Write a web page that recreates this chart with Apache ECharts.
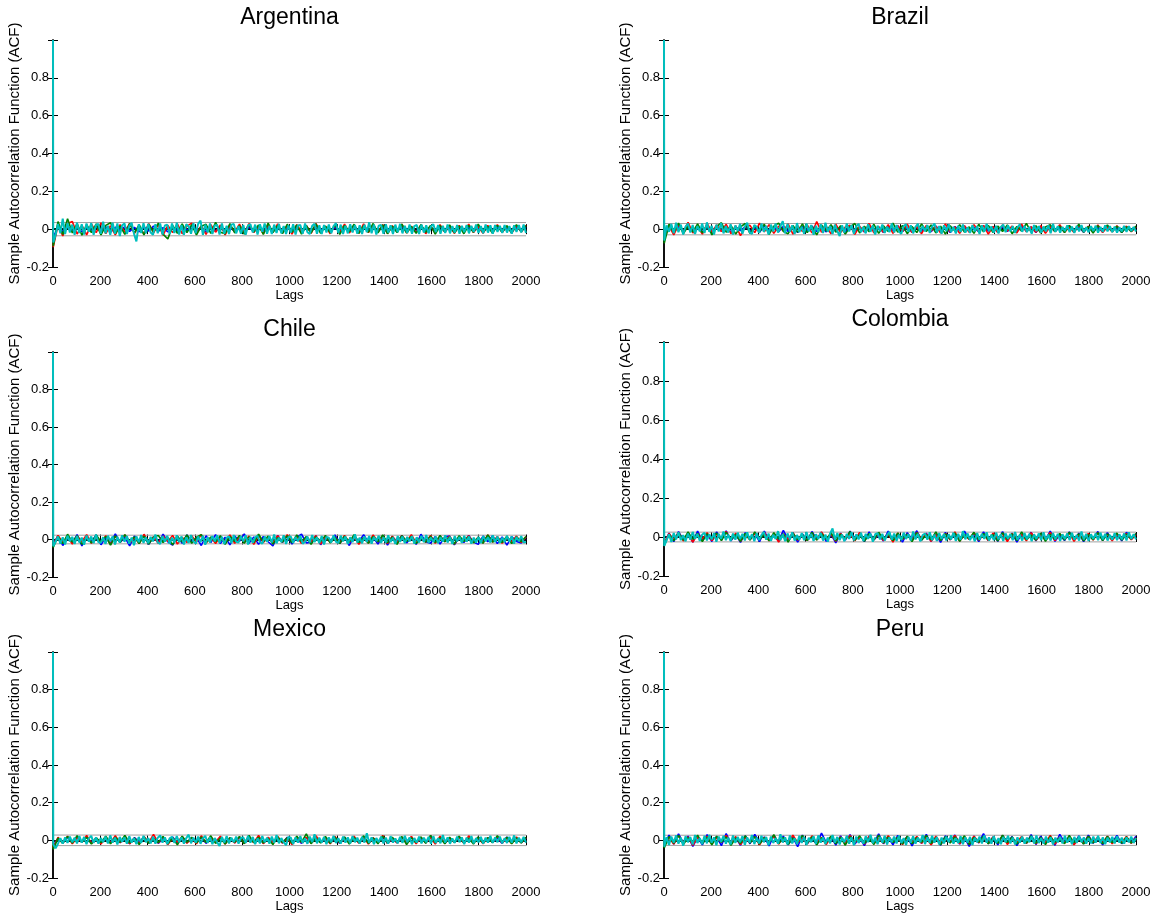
<!DOCTYPE html>
<html>
<head>
<meta charset="utf-8">
<script src="https://cdn.jsdelivr.net/npm/echarts@6/dist/echarts.min.js"></script>
<style>
html,body{margin:0;padding:0;background:#fff;}
#chart{width:1158px;height:916px;}
</style>
</head>
<body>
<div id="chart"></div>
<script>
// ---------------- data (ACF values in thousandths; first value = lag 0, rest spread over lags 1..2000) ----------------
const panelNames = ['Argentina', 'Brazil', 'Chile', 'Colombia', 'Mexico', 'Peru'];
const confBounds = [0.035, 0.030, 0.023, 0.025, 0.028, 0.027];
const lagMax = 2000;
const xTickStep = 200;
const yMin = -0.2, yMax = 1, yTickStep = 0.2;

const argCyan = [1000,
-70,-30,28,-22,55,-26,32,-18,24,-30,
34,-20,26,-28,30,-14,32,-30,22,28,
-24,40,-22,18,-30,34,-24,30,-36,20,
30,-26,16,34,-24,-65,26,-20,32,-22,
28,-18,-30,26,-22,30,-28,20,24,-26,
30,-20,34,-28,22,-30,26,14,-24,32,
-22,28,45,-30,24,-18,30,-26,20,22,
-28,30,-24,18,-26,24,28,-22,16,-24,
22,-30,20,26,-18,24,-28,26,-14,30,
-24,18,-26,24,-20,28,-22,16,-26,20,
-18,26,-28,20,22,-24,30,-16,-26,18,
28,-24,20,-26,22,-18,24,-22,16,32,
-20,24,-26,18,-22,26,-18,22,-24,20,
-26,24,-16,36,-22,24,-28,18,22,-24,
26,-18,20,-26,24,-16,28,-22,18,-20,
24,-24,16,22,-26,24,-18,20,-22,14,
26,-16,22,-24,18,-20,24,-22,16,-18,
22,-24,18,-16,22,-22,18,-14,24,-20,
16,-22,24,-18,20,-24,22,-14,18,-20,
22,-18,16,-24,20,-14,22,-18,24,-20];
const argGreen = [1000,
-90,40,-28,55,-20,30,-32,24,-18,28,
-30,20,34,-24,16,-28,30,-20,24,-30,
26,-16,32,-26,-52,20,-22,28,-18,24,
-30,16,26,-22,36,-16,-24,30,-20,18,
-26,24,-14,22,-28,32,-18,20,-24,26,
-16,22,-26,18,-20,28,-22,16,-18,24,
-28,20,-14,26,-22,18,-16,30,-20,22,
-24,16,-18,26,-20,14,-22,24,-16,20,
-26,18,-14,22,-20,16,-24,20,-16,26,
-18,14,-22,20,-16,18,-20,24,-14,18];
const argRed = [1000,
-95,22,-36,30,40,-26,20,-30,28,-18,
34,-24,18,-30,24,-16,30,-22,16,-26,
30,-20,24,-32,20,-18,28,-24,16,32,
-22,18,-28,24,-16,22,-30,20,-14,26,
-20,30,-18,16,-24,22,-16,28,-20,18,
-26,24,-14,20,-22,30,-18,16,-24,22,
-16,26,-20,14,-22,28,-18,20,-16,24,
-22,18,-14,26,-20,16,-18,22,-24,16,
-20,24,-16,18,-22,20,-14,26,-18,14,
-22,20,-16,24,-18,16,-20,18,-14,20];
const argBlue = [1000,
-45,14,-12,16,-10,12,-14,10,-12,14,
-10,12,-16,10,-8,14,-12,10,-14,12,
-10,16,-12,8,-14,12,-10,14,-8,16,
-12,10,-14,12,-10,14,-16,10,-12,14,
-8,12,-14,16,-10,12,-12,10,-14,12,
-10,14,-16,10,-12,16,-8,12,-14,10,
-12,14,-10,16,-14,12,-8,10,-12,14,
-16,12,-10,14,-12,10,-14,16,-8,12,
-10,14,-12,10,-16,14,-8,12,-12,10,
-14,12,-10,14,-12,10,-14,12,-10,12];

const braCyan = [1000,
-60,20,-14,28,-22,34,-16,24,-28,14,
30,-18,22,-26,16,-12,30,-20,36,-14,
18,-28,24,-12,32,-22,16,-18,26,-28,
20,-10,28,-24,14,34,-16,-26,22,12,
-20,30,-14,18,-28,24,-12,30,-18,16,
42,-22,28,-14,20,-26,32,-16,12,-24,
30,-12,22,-30,18,-16,26,-20,34,-14,
16,-26,24,-10,-36,20,-18,30,-12,22,
-24,16,28,-16,12,-22,26,-14,20,-28,
18,-10,24,-20,14,-16,30,-18,22,-12,
-24,16,26,-14,20,-22,12,28,-16,18,
-12,22,-20,14,30,-18,16,-24,20,-10,
26,-16,12,-22,18,-14,24,-18,10,-20,
22,-12,16,-26,20,-14,28,-10,14,-18,
18,-22,12,24,-16,20,-12,16,-20,10,
26,-14,18,-16,12,-24,22,-10,16,-18,
14,-12,20,-22,28,-14,16,-18,12,-10,
20,-16,14,-20,18,-12,22,-14,10,-16,
16,-10,18,-18,12,-14,20,-12,16,-16,
14,-18,10,-12,18,-14,16,-10,12,-12];
const braGreen = [1000,
-75,26,-18,32,-24,16,-14,28,-20,22,
-30,14,34,-16,20,-26,12,30,-22,18,
-14,26,-28,16,32,-12,-24,20,-16,28,
-18,14,-30,22,-10,24,-16,18,-26,12,
30,-20,16,-14,26,-22,18,-12,32,-16,
20,-24,14,-18,28,-12,22,-20,16,-26,
18,-10,24,-16,12,-22,26,-14,20,-18,
16,-12,22,-24,14,-10,30,-16,18,-20,
12,24,-14,16,-18,20,-12,26,-16,14,
-20,18,-10,22,-14,16,-18,12,-12,16];
const braRed = [1000,
-55,16,-30,24,-14,36,-20,12,-26,30,
-16,22,-12,26,-24,18,-34,14,20,-18,
32,-14,24,-22,16,-10,28,-26,18,-12,
22,-20,40,-16,14,-24,26,-18,12,20,
-28,16,-14,30,-20,12,-16,24,-22,18,
-12,26,-18,14,-24,20,-10,16,-20,28,
-14,12,-22,18,-16,24,-12,20,-26,14,
-18,22,-10,16,-20,26,-14,12,-16,18,
-22,14,-12,24,-16,10,-18,20,-14,16,
-12,22,-18,12,-14,18,-10,16,-14,12];
const braBlue = [1000,
-35,12,-16,14,-10,18,-12,10,-14,16,
-12,14,-10,18,-16,12,-8,14,-12,10,
-16,18,-10,12,-14,16,-12,10,-18,14,
-8,16,-12,10,-14,18,-10,12,-16,14,
-12,10,-14,16,-10,12,-18,14,-8,18,
-12,10,-16,14,-10,12,-14,16,-12,10,
-18,14,-8,16,-12,10,-14,18,-10,12,
-16,14,-12,10,-14,16,-10,12,-18,14,
-8,16,-12,10,-14,18,-10,12,-16,14,
-12,10,-14,16,-10,12,-18,14,-10,12];

const chiCyan = [1000,
-36,-12,16,-22,12,-26,20,-10,14,-24,
18,-16,10,-28,22,-12,16,-20,26,-14,
-18,12,-24,20,-8,16,-26,14,-16,22,
-12,18,-22,10,-30,16,-14,24,-18,12,
-20,14,-10,26,-16,-24,18,-12,20,-22,
10,-16,22,-14,16,-26,12,-18,24,-10,
-22,16,-14,20,-28,12,-16,18,-10,22,
-18,14,-24,10,16,-20,24,-12,-16,18,
-10,22,-26,14,-18,12,20,-14,-22,16,
-12,18,-16,26,-20,10,-14,22,-24,12,
16,-18,14,-10,20,-22,-12,16,-16,24,
-14,12,-20,18,-26,14,10,-16,22,-12,
-18,20,-10,16,-24,12,-14,28,-16,10,
-20,16,-12,18,-22,14,-8,20,-18,12,
-16,22,-14,10,-24,18,-12,16,-20,14,
-10,18,-22,12,-16,20,-14,24,-18,10,
-14,16,-20,12,-12,22,-16,14,-24,18,
-10,14,-18,20,-12,16,-22,10,-16,14,
-20,18,-10,12,-16,22,-14,16,-18,10,
-14,20,-12,16,-22,14,-10,18,-16,-12];
const chiBlue = [1000,
-26,20,-32,14,-18,26,-34,16,-12,24,
-28,10,-20,30,-16,12,-34,18,-10,22,
-26,14,-18,28,-12,-30,16,-20,24,-14,
10,-32,20,-16,26,-22,12,-28,18,-10,
30,-20,14,-26,16,-12,-34,22,-16,18,
-24,12,28,-18,-14,20,-28,16,-10,24,
-22,14,-32,18,-12,26,-16,10,-24,20,
-30,16,-14,22,-18,12,-26,28,-12,-20,
16,-24,14,18,-28,10,-16,22,-14,-26,
18,-12,20,-22,14,-30,16,-10,-18,12];
const chiGreen = [1000,
-42,16,-22,28,-14,20,-26,12,-18,24,
-12,16,-30,20,-16,26,-10,14,-22,18,
-24,12,22,-16,10,-28,18,-14,24,-20,
12,26,-18,14,-12,20,-26,16,-10,22,
-20,14,-16,28,-12,18,-24,10,-14,20,
-18,24,-12,16,-26,14,-10,22,-18,12,
-22,18,-14,26,-16,10,-20,16,-12,24,
-18,14,-26,20,-10,16,-22,12,-14,18,
-16,22,-12,14,-24,20,-10,16,-18,12,
-20,24,-14,10,-16,18,-22,14,-12,16];
const chiRed = [1000,
-30,22,-16,14,-24,18,-10,26,-20,12,
-14,20,-26,16,-12,24,-18,10,-22,28,
-16,14,-20,18,-10,22,-24,12,-16,20,
-14,26,-18,10,-22,16,-12,24,-20,14,
-10,18,-26,22,-16,12,-18,20,-14,26,
-12,16,-22,14,-10,20,-24,18,-16,12,
-20,22,-14,16,-26,10,-18,24,-12,14,
-22,18,-16,20,-10,26,-18,12,-14,22,
-20,16,-12,18,-24,14,-10,20,-16,12,
-18,24,-14,16,-20,10,-12,18,-16,14];

const colCyan = [1000,
-46,-16,14,-26,20,-12,24,-16,10,-22,
18,-14,26,-10,16,-20,12,22,-18,14,
-12,20,-24,16,-10,28,-16,12,-20,18,
-14,22,-10,16,-18,24,-12,14,-22,20,
-16,10,26,-14,18,-20,12,-10,30,-16,
14,-22,18,-12,24,-18,10,-14,20,-16,
26,-12,16,-20,14,-10,22,-18,12,-24,
18,44,-14,20,-16,12,-22,16,-10,24,
-18,14,-12,22,-20,16,-10,18,-24,14,
20,-12,16,-18,10,26,-14,18,-20,12,
-16,22,-10,14,-18,28,-12,16,-22,10,
18,-14,24,-16,12,-20,20,-10,16,-18,
14,-12,22,-20,16,-14,30,-12,18,-16,
10,-22,20,-14,16,-10,24,-18,12,-16,
22,-12,14,-20,18,-10,16,-16,26,-14,
12,-18,20,-12,16,-22,14,-10,18,-16,
24,-14,12,-18,20,-12,16,-20,14,-10,
18,-16,22,-14,10,-18,28,-12,16,-20,
14,-10,18,-16,22,-12,16,-18,10,-14,
20,-16,14,-12,18,-18,24,-10,14,-12];
const colBlue = [1000,
-34,20,-24,28,-14,16,-26,30,-18,12,
-22,26,-16,32,-20,14,-28,22,-12,18,
-24,30,-16,10,-20,34,-14,22,-26,16,
-18,28,-12,24,-22,14,-30,20,-16,30,
-10,18,-24,26,-14,12,-20,30,-18,16,
-26,22,-12,32,-16,20,-22,14,-28,24,
-14,18,-20,30,-12,16,-24,26,-18,12,
-22,28,-16,20,-26,14,-10,24,-20,18,
-14,30,-22,12,-18,26,-16,20,-24,14,
-12,28,-18,22,-14,16,-20,24,-12,16];
const colGreen = [1000,
-44,14,-20,22,-16,26,-12,18,-24,16,
-10,20,-18,24,-14,12,-22,18,-16,26,
-12,14,-20,22,-10,16,-26,20,-14,12,
-18,24,-16,18,-12,22,-20,14,-10,28,
-16,12,-22,18,-14,24,-12,16,-18,20,
-10,14,-24,22,-16,12,-14,26,-18,16,
-12,20,-22,14,-10,24,-16,18,-14,12,
-20,22,-12,16,-18,26,-14,10,-16,20,
-22,14,-12,18,-16,24,-10,16,-20,12,
-14,22,-18,16,-12,20,-16,14,-10,18];
const colRed = [1000,
-30,18,-14,24,-20,12,-26,16,-10,22,
-18,14,-12,28,-16,20,-22,12,-14,18,
-10,24,-20,16,-26,14,-12,22,-16,10,
-18,20,-14,26,-12,16,-22,18,-10,14,
-20,24,-16,12,-14,22,-18,16,-26,20,
-12,14,-18,24,-10,16,-22,12,-16,18,
-14,26,-20,10,-12,22,-16,14,-18,20,
-10,16,-24,18,-12,14,-20,22,-16,12,
-14,24,-18,16,-10,20,-22,14,-12,18,
-16,22,-10,14,-20,16,-12,18,-14,12];

const mexCyan = [1000,
-22,-42,-18,12,-18,16,-14,20,-10,14,
-16,22,-12,18,-20,10,24,-14,16,-18,
12,-10,20,-16,26,-12,14,-22,18,-8,
16,-18,22,-12,10,-20,18,-14,24,-10,
12,-16,20,-18,14,26,-12,16,-20,10,
18,-14,22,-10,16,-18,12,30,-16,14,
-12,20,-18,10,24,-14,16,-20,12,-10,
-30,18,-12,22,-16,14,-10,20,-18,12,
16,-14,24,-12,18,-20,10,-16,22,-10,
14,-18,20,-12,28,-16,12,-10,-26,18,
14,-20,16,-12,22,-14,10,-18,20,-10,
32,-16,14,-12,18,-20,16,-10,24,-14,
12,-18,20,-12,16,-16,22,-10,14,-18,
18,-12,38,-14,16,-20,12,-10,20,-16,
14,-18,22,-12,10,-16,18,-14,24,-10,
16,-20,12,-12,20,-16,14,-10,18,-18,
22,-14,12,-16,28,-12,16,-18,10,-14,
20,-10,16,-20,14,-12,22,-16,12,-10,
18,-18,14,-12,24,-14,16,-10,20,-16,
12,-14,18,-12,26,-16,14,-10,18,-12];
const mexGreen = [1000,
-48,12,-16,20,-14,24,-10,16,-20,14,
-12,22,-18,16,-10,26,-14,12,-22,18,
-16,10,-12,20,-18,14,-24,22,-10,16,
-14,18,-12,24,-16,12,-20,14,-10,20,
-18,26,-12,16,-14,10,-22,18,-12,14,
-16,22,-10,34,-18,12,-14,20,-16,16,
-12,18,-20,14,-10,24,-16,12,-18,22,
-14,16,-10,20,-22,14,-12,18,-16,26,
-12,14,-18,16,-10,22,-14,12,-20,18,
-16,14,-12,24,-10,16,-18,12,-14,16];
const mexRed = [1000,
-40,16,-12,22,-18,14,-10,26,-16,12,
-20,18,-14,24,-12,16,-18,10,-16,20,
-12,32,-14,18,-22,12,-10,20,-16,14,
-18,24,-12,16,-10,22,-20,14,-14,18,
-16,12,-12,26,-18,16,-10,20,-14,12,
-22,18,-12,16,-16,24,-10,14,-18,20,
-14,12,-10,22,-16,18,-20,14,-12,26,
-16,12,-14,18,-10,20,-18,16,-12,14,
-20,22,-14,12,-10,18,-16,24,-12,16,
-18,14,-10,20,-14,12,-16,18,-12,14];
const mexBlue = [1000,
-28,10,-14,16,-12,14,-10,18,-14,12,
-16,14,-10,16,-12,10,-18,14,-8,16,
-12,14,-16,10,-10,18,-14,12,-12,14,
-10,16,-16,12,-8,18,-14,10,-12,16,
-14,12,-10,18,-16,14,-8,12,-14,16,
-12,10,-16,14,-10,18,-12,12,-14,10,
-16,16,-10,14,-12,18,-14,12,-8,16,
-16,10,-12,14,-10,18,-14,12,-12,16,
-10,14,-16,12,-8,18,-12,10,-14,16,
-12,14,-10,12,-16,18,-10,14,-12,12];

const peruCyan = [1000,
-34,16,-24,20,-12,26,-18,14,-28,22,
-10,18,-22,28,-14,12,-20,24,-16,30,
-12,16,-26,20,-8,24,-18,14,-22,26,
-14,18,-10,22,-24,16,-12,28,-20,14,
-16,24,-10,18,-26,20,-14,12,-18,32,
-12,16,-22,26,-16,10,-20,24,-14,18,
-24,14,-10,22,-18,26,-12,16,-20,14,
-16,28,-12,18,-22,14,-10,24,-18,16,
-26,20,-14,12,-18,22,-10,30,-16,14,
-20,18,-12,24,-22,16,-10,20,-16,26,
-14,12,-24,18,-12,22,-18,14,-10,28,
-20,16,-14,24,-12,18,-22,14,-16,20,
-10,26,-18,12,-14,22,-20,16,-12,18,
-24,14,-10,20,-16,26,-12,16,-18,22,
-14,12,-20,18,-10,24,-16,14,-22,16,
-12,20,-18,14,-10,22,-16,26,-14,12,
-18,20,-12,16,-22,14,-10,18,-16,24,
-12,14,-20,18,-14,22,-10,16,-18,12,
-16,20,-12,24,-14,16,-20,14,-10,18,
-16,22,-12,14,-18,16,-10,20,-14,12];
const peruBlue = [1000,
-26,28,-20,34,-14,22,-32,16,-24,30,
-12,20,-28,36,-16,14,-26,24,-18,32,
-10,18,-30,26,-14,22,-24,16,-34,28,
-18,14,-22,38,-12,20,-26,24,-16,30,
-20,12,-28,22,-14,34,-18,16,-24,26,
-12,20,-30,18,-16,32,-22,14,-26,24,
-10,28,-20,16,-32,22,-14,36,-18,18,
-24,26,-12,20,-28,14,-16,30,-22,22,
-14,18,-26,32,-10,16,-20,24,-18,28,
-16,14,-24,20,-12,26,-18,16,-14,22];
const peruGreen = [1000,
-40,20,-16,26,-22,14,-12,28,-18,16,
-24,22,-10,18,-26,12,-16,24,-14,20,
-20,14,-12,30,-18,16,-22,12,-10,26,
-16,18,-24,14,-12,22,-18,16,-26,20,
-10,24,-16,12,-22,28,-14,18,-12,16,
-20,22,-18,14,-10,26,-16,12,-24,20,
-14,18,-12,24,-22,16,-10,22,-18,14,
-16,28,-12,18,-20,12,-14,24,-16,16,
-22,20,-10,14,-18,26,-12,16,-20,22,
-14,12,-18,20,-12,16,-16,18,-14,12];
const peruRed = [1000,
-32,14,-20,24,-12,18,-26,16,-14,22,
-18,12,-10,26,-16,20,-22,14,-12,18,
-24,16,-10,22,-20,14,-16,28,-12,12,
-18,24,-14,16,-22,20,-10,18,-16,26,
-12,14,-20,22,-18,12,-14,24,-10,16,
-22,18,-12,20,-16,14,-24,22,-14,12,
-10,26,-18,16,-20,22,-12,14,-16,18,
-14,24,-22,12,-10,20,-16,16,-18,14,
-12,26,-20,18,-14,16,-24,10,-16,20,
-12,18,-14,22,-18,12,-10,20,-16,14];

// per panel: [blue, red, green, cyan] (cyan drawn last, on top)
const panelSeries = [
  [argBlue, argRed, argGreen, argCyan],
  [braBlue, braRed, braGreen, braCyan],
  [chiBlue, chiRed, chiGreen, chiCyan],
  [colBlue, colRed, colGreen, colCyan],
  [mexBlue, mexRed, mexGreen, mexCyan],
  [peruBlue, peruRed, peruGreen, peruCyan]
];

// ---------------- styling / layout ----------------
const chainColors = ['#0000FF', '#FF0000', '#008000', '#00BFBF'];
const chainWidths = [1.6, 1.6, 1.6, 2];
const gridBoxes = [
  {left: 53,  top: 40,  width: 473, height: 227},
  {left: 664, top: 40,  width: 472, height: 227},
  {left: 53,  top: 352, width: 473, height: 225},
  {left: 664, top: 342, width: 472, height: 234},
  {left: 53,  top: 652, width: 473, height: 226},
  {left: 664, top: 652, width: 472, height: 226}
];
const FONT = '"Liberation Sans", Arial, Helvetica, sans-serif';

// lag 0 gets the first value; the remaining values are spread evenly over lags 1..lagMax
function toPoints(arr) {
  const step = (lagMax - 1) / (arr.length - 2);
  return arr.map((v, i) => [i === 0 ? 0 : 1 + (i - 1) * step, v / 1000]);
}

const grid = [], xAxis = [], yAxis = [], series = [], graphic = [];
const axisLine = {show: true, lineStyle: {color: '#000', width: 1.5}};
const axisTick = {show: true, inside: true, length: 5, lineStyle: {color: '#000', width: 1}};

panelNames.forEach((name, p) => {
  const g = gridBoxes[p];
  grid.push({left: g.left, top: g.top, width: g.width, height: g.height, containLabel: false});
  xAxis.push({
    type: 'value', gridIndex: p, position: 'bottom', min: 0, max: lagMax, interval: xTickStep,
    axisLine, axisTick, splitLine: {show: false},
    axisLabel: {fontFamily: FONT, fontSize: 13, color: '#000', margin: 8, formatter: v => String(v)},
    name: 'Lags', nameLocation: 'middle', nameGap: 19,
    nameTextStyle: {fontFamily: FONT, fontSize: 13, color: '#000'}
  });
  xAxis.push({
    type: 'value', gridIndex: p, position: 'top', min: 0, max: lagMax, interval: xTickStep,
    axisLine, axisTick, splitLine: {show: false}, axisLabel: {show: false}
  });
  yAxis.push({
    type: 'value', gridIndex: p, position: 'left', min: yMin, max: yMax, interval: yTickStep,
    axisLine, axisTick, splitLine: {show: false},
    axisLabel: {fontFamily: FONT, fontSize: 13, color: '#000', margin: 4,
      formatter: v => (v > 0.99 ? '' : String(Math.round(v * 10) / 10))},
    name: 'Sample Autocorrelation Function (ACF)', nameLocation: 'middle', nameGap: 30,
    nameTextStyle: {fontFamily: FONT, fontSize: 15, color: '#000'}
  });
  yAxis.push({
    type: 'value', gridIndex: p, position: 'right', min: yMin, max: yMax, interval: yTickStep,
    axisLine, axisTick, splitLine: {show: false}, axisLabel: {show: false}
  });

  const xi = p * 2, yi = p * 2;
  const b = confBounds[p];
  [b, -b].forEach(val => {
    series.push({
      type: 'line', xAxisIndex: xi, yAxisIndex: yi, silent: true, symbol: 'none',
      data: [[0, val], [lagMax, val]],
      lineStyle: {color: '#A0A0A0', width: 1}, z: 1
    });
  });
  panelSeries[p].forEach((arr, k) => {
    series.push({
      type: 'line', xAxisIndex: xi, yAxisIndex: yi, symbol: 'none', silent: true,
      data: toPoints(arr),
      lineStyle: {color: chainColors[k], width: chainWidths[k]}, z: 2 + k
    });
  });

  graphic.push({
    type: 'text', x: g.left + g.width / 2, y: g.top - 22, silent: true,
    style: {text: name, fill: '#000', font: '23px ' + FONT, textAlign: 'center', textVerticalAlign: 'middle'}
  });
});

const chart = echarts.init(document.getElementById('chart'), null, {renderer: 'canvas'});
chart.setOption({
  animation: false,
  backgroundColor: '#fff',
  grid, xAxis, yAxis, series, graphic
});
</script>
</body>
</html>
